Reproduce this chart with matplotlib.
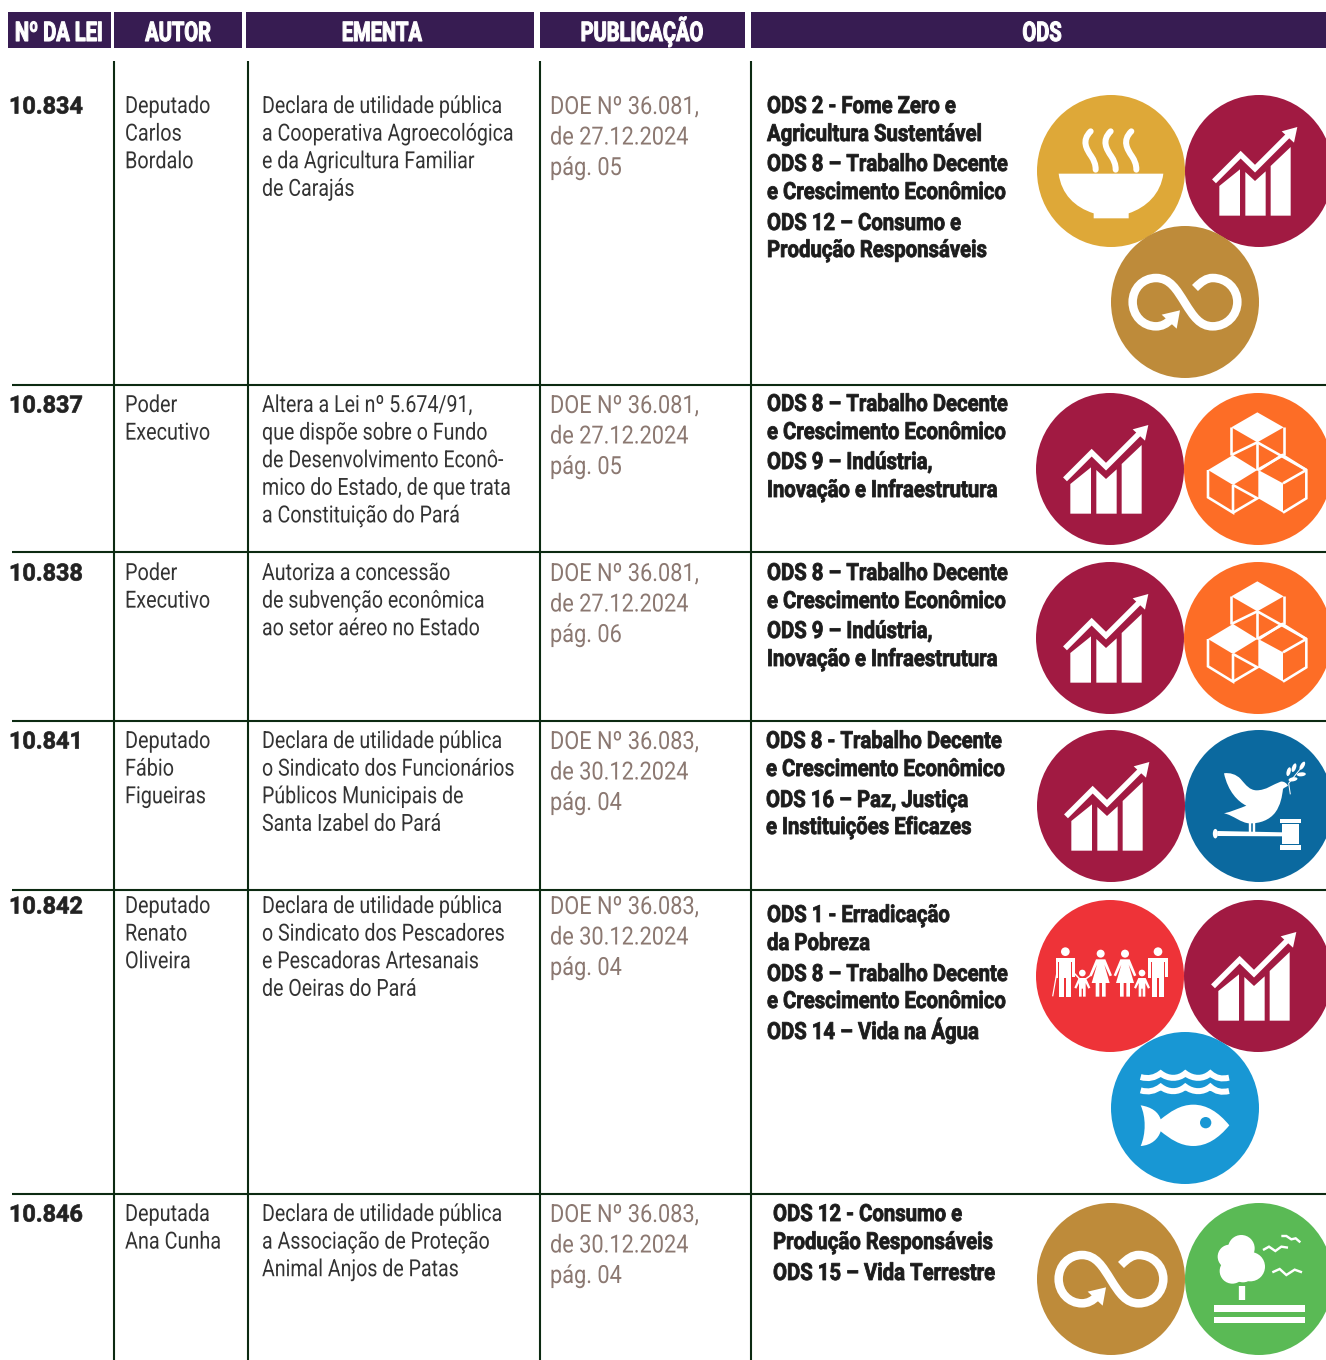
import numpy as np
import matplotlib
matplotlib.use("Agg")
import matplotlib.pyplot as plt
from matplotlib.patches import Rectangle, Ellipse, Polygon, PathPatch
from matplotlib.path import Path
from matplotlib.patheffects import AbstractPathEffect
from matplotlib.transforms import Affine2D

FONT = ["Roboto", "DejaVu Sans"]

# ---- table content ----
HEADERS = ["Nº DA LEI", "AUTOR", "EMENTA", "PUBLICAÇÃO", "ODS"]
LAWS = ["10.834", "10.837", "10.838", "10.841", "10.842", "10.846"]
AUTHORS = [["Deputado", "Carlos", "Bordalo"], ["Poder", "Executivo"], ["Poder", "Executivo"],
           ["Deputado", "Fábio", "Figueiras"], ["Deputado", "Renato", "Oliveira"], ["Deputada", "Ana Cunha"]]
SUMMARIES = [
    ["Declara de utilidade pública", "a Cooperativa Agroecológica", "e da Agricultura Familiar", "de Carajás"],
    ["Altera a Lei nº 5.674/91,", "que dispõe sobre o Fundo", "de Desenvolvimento Econô-", "mico do Estado, de que trata", "a Constituição do Pará"],
    ["Autoriza a concessão", "de subvenção econômica", "ao setor aéreo no Estado"],
    ["Declara de utilidade pública", "o Sindicato dos Funcionários", "Públicos Municipais de", "Santa Izabel do Pará"],
    ["Declara de utilidade pública", "o Sindicato dos Pescadores", "e Pescadoras Artesanais", "de Oeiras do Pará"],
    ["Declara de utilidade pública", "a Associação de Proteção", "Animal Anjos de Patas"],
]
PUBS = [
    ["DOE Nº 36.081,", "de 27.12.2024", "pág. 05"], ["DOE Nº 36.081,", "de 27.12.2024", "pág. 05"],
    ["DOE Nº 36.081,", "de 27.12.2024", "pág. 06"], ["DOE Nº 36.083,", "de 30.12.2024", "pág. 04"],
    ["DOE Nº 36.083,", "de 30.12.2024", "pág. 04"], ["DOE Nº 36.083,", "de 30.12.2024", "pág. 04"],
]
ODS_TEXT = [
    ["ODS 2 - Fome Zero e", "Agricultura Sustentável", "ODS 8 – Trabalho Decente", "e Crescimento Econômico", "ODS 12 – Consumo e", "Produção Responsáveis"],
    ["ODS 8 – Trabalho Decente", "e Crescimento Econômico", "ODS 9 – Indústria,", "Inovação e Infraestrutura"],
    ["ODS 8 – Trabalho Decente", "e Crescimento Econômico", "ODS 9 – Indústria,", "Inovação e Infraestrutura"],
    ["ODS 8 - Trabalho Decente", "e Crescimento Econômico", "ODS 16 – Paz, Justiça", "e Instituições Eficazes"],
    ["ODS 1 - Erradicação", "da Pobreza", "ODS 8 – Trabalho Decente", "e Crescimento Econômico", "ODS 14 – Vida na Água"],
    ["ODS 12 - Consumo e", "Produção Responsáveis", "ODS 15 – Vida Terrestre"],
]
ODS_Y = [
    [105, 133, 163, 191, 222, 249], [403, 431, 461, 489], [572, 600, 630, 658],
    [740, 768, 799, 826], [914, 942, 973, 1000, 1031], [1213, 1241, 1272],
]
ODS_X = [767, 767, 767, 766, 767, 773]
ICONS = [
    [(2, 1111, 171), (8, 1259, 171), (12, 1185, 302)],
    [(8, 1110, 469), (9, 1258, 469)],
    [(8, 1110, 638), (9, 1258, 638)],
    [(8, 1111, 806), (16, 1259, 806)],
    [(1, 1110, 976), (8, 1258, 976), (14, 1185, 1108)],
    [(12, 1111, 1279), (15, 1259, 1279)],
]
ODS_COLORS = {1: "#ee3338", 2: "#dea838", 8: "#a11a42", 9: "#fd6d26", 12: "#be8b3a",
              14: "#1897d4", 15: "#5aba55", 16: "#0b699f"}
ROW_TOPS = [105, 404, 572, 740, 905, 1213]
HEADER_SPANS = [(8, 111), (114, 242), (246, 534), (540, 745), (751, 1326)]
HEADER_X = [59, 178, 382, 642, 1042]
VLINES = [114, 248, 540, 751]
HLINES = [385, 552, 721, 890, 1194]

PURPLE = "#371c52"
RULE = "#0c2a12"
TEXT = "#333333"
PUBC = "#8b7871"


class Squeeze(AbstractPathEffect):
    """Narrow a text horizontally about its anchor; optional stroke adds weight."""

    def __init__(self, sx, x0, stroke=0.0):
        super().__init__()
        self.sx, self.x0, self.stroke = sx, x0, stroke

    def draw_path(self, renderer, gc, tpath, affine, rgbFace=None):
        tr = affine + Affine2D().translate(-self.x0, 0).scale(self.sx, 1).translate(self.x0, 0)
        if self.stroke > 0:
            g = renderer.new_gc()
            g.copy_properties(gc)
            g.set_linewidth(self.stroke)
            g.set_foreground(rgbFace)
            g.set_joinstyle("round")
            renderer.draw_path(g, tpath, tr, rgbFace)
            g.restore()
        else:
            renderer.draw_path(gc, tpath, tr, rgbFace)


fig = plt.figure(figsize=(13.26, 13.60), dpi=100)
ax = fig.add_axes([0, 0, 1, 1])
ax.set_xlim(0, 1326)
ax.set_ylim(1360, 0)
ax.axis("off")


def label(x, y, s, size, color, sx, stroke=0.0, weight="normal", ha="left"):
    t = ax.text(x, y, s, family=FONT, weight=weight, fontsize=size, color=color, ha=ha, va="baseline")
    t.set_path_effects([Squeeze(sx, x, stroke)])
    return t


for (a, b), hx, h in zip(HEADER_SPANS, HEADER_X, HEADERS):
    ax.add_patch(Rectangle((a, 12), b - a, 36, fc=PURPLE, ec="none"))
    label(hx, 41, h, 19.5, "white", 0.74, 0.8, "bold", "center")
for x in VLINES:
    ax.plot([x, x], [61, 1360], color=RULE, lw=1.5, solid_capstyle="butt")
for y in HLINES:
    ax.plot([12, 1326], [y, y], color=RULE, lw=1.5, solid_capstyle="butt")

for i, y0 in enumerate(ROW_TOPS):
    label(9, y0 + 8.5, LAWS[i], 17, "#222222", 0.99, 0.5, "bold")
    for k, s in enumerate(AUTHORS[i]):
        label(125, y0 + 8 + k * 27.6, s, 17, TEXT, 0.84)
    for k, s in enumerate(SUMMARIES[i]):
        label(262, y0 + 8 + k * 27.6, s, 17, TEXT, 0.83)
    for k, s in enumerate(PUBS[i]):
        label(550, y0 + 9 + k * 30.5, s, 18, PUBC, 0.87)
    for yy, s in zip(ODS_Y[i], ODS_TEXT[i]):
        label(ODS_X[i], yy + 8, s, 17, "#1c1c1c", 0.86, 0.6, "bold")


def T(pts, c, o):
    p = np.asarray(pts, float)
    return (p - np.asarray(o)) / 3.0 + np.asarray(c)


def poly(pts, c, o, color="white", **kw):
    ax.add_patch(Polygon(T(pts, c, o), closed=True, fc=color, ec="none", **kw))


def stroke(pts, c, o, w=6, color="white", cap="butt", codes=None):
    v = T(pts, c, o)
    if codes is None:
        ax.plot(v[:, 0], v[:, 1], color=color, lw=w * 0.72, solid_capstyle=cap, solid_joinstyle="miter")
    else:
        ax.add_patch(PathPatch(Path(v, codes), fc="none", ec=color, lw=w * 0.72, capstyle=cap, joinstyle="miter"))


def disc(x, y, r, c, o, color="white"):
    q = T([(x, y)], c, o)[0]
    ax.add_patch(Ellipse(q, 2 * r / 3, 2 * r / 3, fc=color, ec="none"))


def bez(start, *segs):
    pts, codes = [start], [Path.MOVETO]
    for s in segs:
        pts += list(s)
        codes += [Path.CURVE4] * 3
    return pts, codes


def icon_growth(c):
    o = (240, 237)
    poly([(121, 371), (121, 282), (183, 232), (183, 371)], c, o)
    poly([(199, 371), (199, 240), (228, 267), (260, 238), (260, 371)], c, o)
    poly([(275, 371), (275, 222), (335, 165), (335, 371)], c, o)
    stroke([(105, 268), (185, 188), (228, 230), (328, 130)], c, o, w=5.5)
    poly([(355, 105), (308, 118), (345, 152)], c, o)


def icon_soup(c):
    o = (244, 256)
    pts, codes = bez((87, 264), [(401, 264), (401, 264), (401, 264)],
                     [(393, 325), (350, 365), (297, 383)],
                     [(297, 390), (297, 392), (297, 398)],
                     [(260, 398), (230, 398), (192, 398)],
                     [(192, 392), (192, 390), (192, 383)],
                     [(135, 365), (95, 325), (87, 264)])
    ax.add_patch(PathPatch(Path(T(pts, c, o), codes), fc="white", ec="none"))
    for dx in (0, 60, 122):
        pts, codes = bez((183 + dx, 137), [(155 + dx, 165), (170 + dx, 190), (185 + dx, 212)],
                         [(193 + dx, 225), (198 + dx, 235), (198 + dx, 252)])
        stroke(pts, c, o, w=6, cap="round", codes=codes)


def icon_infinity(c):
    o = (465, 652)
    pts, codes = bez((495, 610), [(515, 590), (530, 580), (548, 580)], [(590, 580), (622, 612), (622, 652)],
                     [(622, 692), (590, 725), (548, 725)], [(510, 725), (490, 695), (465, 655)],
                     [(440, 615), (420, 580), (378, 580)], [(338, 580), (308, 612), (308, 652)],
                     [(308, 692), (338, 725), (378, 725)], [(395, 725), (410, 718), (425, 702)])
    stroke(pts, c, o, w=8.5, codes=codes)
    poly([(395, 690), (450, 677), (440, 732)], c, o)


def icon_blocks(c):
    o = (685, 237)
    poly([(683, 67), (762, 112), (683, 157), (605, 112)], c, o)
    poly([(610, 195), (683, 240), (610, 285), (535, 240)], c, o)
    poly([(686, 240), (760, 280), (760, 368), (686, 325)], c, o)
    segs = [[(605, 112), (605, 195)], [(762, 112), (762, 195)], [(683, 157), (683, 240)],
            [(605, 195), (683, 157)], [(683, 157), (830, 240)], [(762, 195), (683, 240)],
            [(535, 240), (535, 322), (610, 368), (610, 285)], [(610, 285), (683, 325), (610, 368)],
            [(688, 240), (758, 195), (830, 240), (830, 325), (760, 368)], [(760, 280), (830, 240)]]
    for s in segs:
        stroke(s, c, o, w=2.6)


def icon_peace(c):
    o = (688 - 525, 243 - 90)
    pts, codes = bez((58, 55), [(75, 52), (95, 58), (108, 72)], [(125, 92), (135, 105), (155, 106)],
                     [(185, 106), (205, 88), (228, 80)], [(238, 78), (246, 85), (250, 92)],
                     [(243, 97), (238, 98), (235, 102)], [(232, 125), (228, 150), (212, 172)],
                     [(195, 195), (165, 206), (135, 205)], [(110, 205), (85, 180), (58, 175)],
                     [(80, 170), (105, 160), (125, 152)], [(100, 140), (70, 110), (58, 55)])
    ax.add_patch(PathPatch(Path(T(pts, c, o), codes), fc="white", ec="none"))
    stroke([(137, 203), (137, 232)], c, o, w=2.4)
    stroke([(147, 203), (147, 232)], c, o, w=2.4)
    poly([(38, 228), (234, 232), (234, 244), (38, 243)], c, o)
    ax.add_patch(Ellipse(T([(32, 236)], c, o)[0], 5, 9.5, fc="white", ec="none"))
    poly([(232, 208), (282, 208), (282, 268), (232, 268)], c, o)
    poly([(225, 192), (288, 192), (288, 205), (225, 205)], c, o)
    poly([(225, 271), (288, 271), (288, 284), (225, 284)], c, o)
    stroke([(257, 118), (252, 85), (298, 28)], c, o, w=1)
    for (x, y, a) in [(252, 50, 75), (268, 38, 70), (293, 32, 60), (290, 58, 5), (265, 73, 10)]:
        q = T([(x, y)], c, o)[0]
        ax.add_patch(Ellipse(q, 9, 4, angle=-a, fc="white", ec="none"))


def man(x, c, o):
    disc(x, 169, 13, c, o)
    poly([(x - 29, 248), (x - 29, 187), (x + 29, 187), (x + 29, 244), (x + 21, 244), (x + 21, 200), (x + 18, 200),
          (x + 18, 304), (x + 3, 304), (x + 3, 248), (x - 3, 248), (x - 3, 304), (x - 18, 304), (x - 18, 200),
          (x - 21, 200), (x - 21, 248)], c, o)


def woman(x, c, o):
    disc(x, 175, 12, c, o)
    poly([(x - 14, 192), (x + 14, 192), (x + 34, 240), (x + 27, 243), (x + 11, 208), (x + 27, 263), (x + 15, 263),
          (x + 15, 304), (x + 4, 304), (x + 4, 263), (x - 4, 263), (x - 4, 304), (x - 15, 304), (x - 15, 263),
          (x - 27, 263), (x - 11, 208), (x - 27, 243), (x - 34, 240)], c, o)


def child(x, c, o):
    disc(x, 233, 10, c, o)
    poly([(x - 11, 248), (x + 11, 248), (x + 24, 277), (x + 18, 280), (x + 10, 263), (x + 10, 304), (x + 2, 304),
          (x + 2, 280), (x - 2, 280), (x - 2, 304), (x - 10, 304), (x - 10, 263), (x - 18, 280), (x - 24, 277)], c, o)


def icon_poverty(c):
    o = (240, 242)
    man(106, c, o)
    man(384, c, o)
    woman(212, c, o)
    woman(285, c, o)
    child(157, c, o)
    child(336, c, o)
    stroke([(80, 235), (68, 303)], c, o, w=1.2)
    stroke([(134, 235), (148, 250)], c, o, w=1.5)
    stroke([(168, 250), (182, 240)], c, o, w=1.5)


def icon_water(c):
    o = (465, 638)
    for dy in (0, 40):
        pts, codes = bez((332, 545 + dy), [(355, 552 + dy), (375, 547 + dy), (392, 534 + dy)],
                         [(415, 552 + dy), (445, 552 + dy), (466, 534 + dy)],
                         [(490, 552 + dy), (520, 552 + dy), (541, 534 + dy)],
                         [(558, 549 + dy), (575, 552 + dy), (597, 547 + dy)])
        stroke(pts, c, o, w=6, codes=codes)
    pts, codes = bez((598, 690), [(565, 650), (530, 628), (490, 628)], [(450, 628), (420, 650), (392, 672)],
                     [(385, 650), (365, 635), (332, 630)], [(348, 665), (348, 715), (332, 752)],
                     [(365, 750), (385, 730), (392, 708)], [(420, 730), (450, 752), (490, 752)],
                     [(530, 752), (565, 730), (598, 690)])
    ax.add_patch(PathPatch(Path(T(pts, c, o), codes), fc="white", ec="none"))
    disc(527, 682, 17, c, o, color=ODS_COLORS[14])


def icon_land(c):
    o = (688, 252)
    for (x, y, r) in [(635, 160, 40), (600, 185, 36), (662, 215, 44), (608, 228, 38), (640, 225, 37)]:
        disc(x, y, r, c, o)
    stroke([(637, 272), (637, 315)], c, o, w=6.3)
    poly([(553, 331), (825, 331), (825, 351), (553, 351)], c, o)
    poly([(553, 365), (825, 365), (825, 385), (553, 385)], c, o)
    for b in ([(700, 165), (718, 155), (737, 168), (755, 155), (775, 158)],
              [(755, 123), (770, 123), (785, 133), (798, 130), (812, 142)],
              [(728, 232), (750, 222), (770, 240), (795, 224), (817, 232)]):
        stroke(b, c, o, w=2.4)


DRAW = {1: icon_poverty, 2: icon_soup, 8: icon_growth, 9: icon_blocks, 12: icon_infinity,
        14: icon_water, 15: icon_land, 16: icon_peace}

for row in ICONS:
    for (code, cx, cy) in row:
        ax.add_patch(Ellipse((cx, cy), 148, 152, fc=ODS_COLORS[code], ec="none"))
for row in ICONS:
    for (code, cx, cy) in row:
        DRAW[code]((cx, cy))

fig.savefig("out.png", dpi=100, facecolor="white")
